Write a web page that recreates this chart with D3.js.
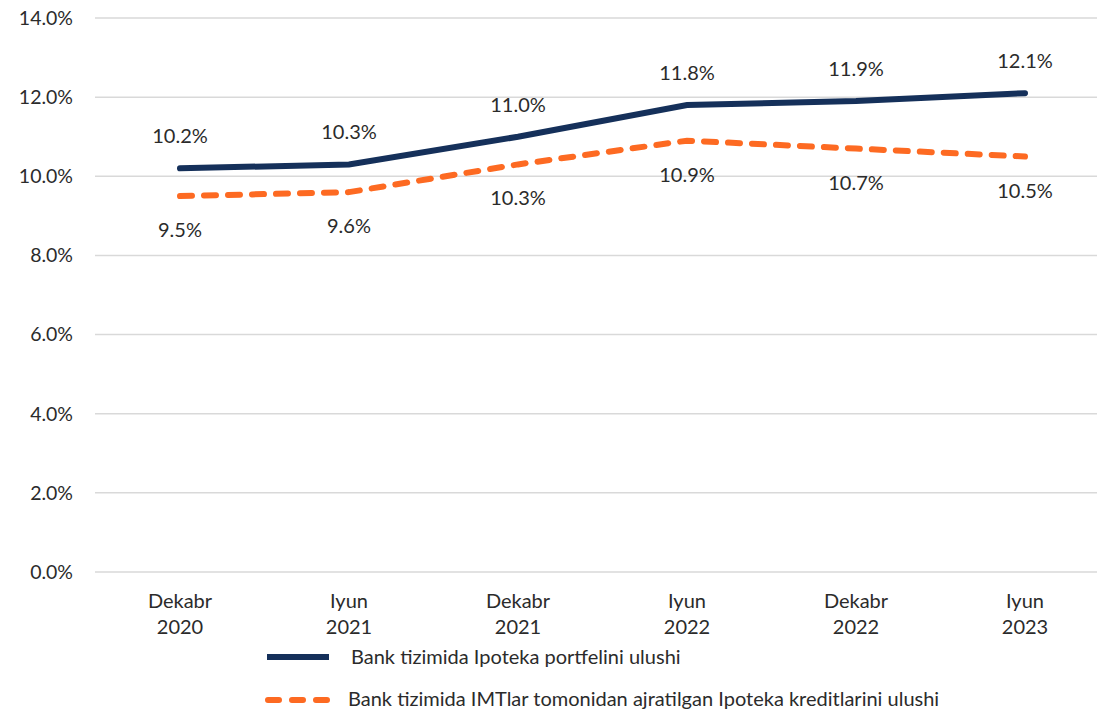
<!DOCTYPE html>
<html>
<head>
<meta charset="utf-8">
<script src="https://cdn.jsdelivr.net/npm/d3@7"></script>
<style>
  body { margin: 0; background: #fff; }
  text { font-family: Lato, "Open Sans", sans-serif; fill: #2b2b2b; }
</style>
</head>
<body>
<script>
// Data
var periods = [["Dekabr", "2020"], ["Iyun", "2021"], ["Dekabr", "2021"],
               ["Iyun", "2022"], ["Dekabr", "2022"], ["Iyun", "2023"]];
var portfolioShare = [10.2, 10.3, 11.0, 11.8, 11.9, 12.1];
var imtShare = [9.5, 9.6, 10.3, 10.9, 10.7, 10.5];
var yTicks = [0, 2, 4, 6, 8, 10, 12, 14];
var seriesNames = ["Bank tizimida Ipoteka portfelini ulushi",
                   "Bank tizimida IMTlar tomonidan ajratilgan Ipoteka kreditlarini ulushi"];

var width = 1097, height = 715;
var navy = "#15305a", orange = "#fd6a22";

var svg = d3.select("body").append("svg")
    .attr("width", width)
    .attr("height", height);

var xScale = d3.scalePoint()
    .domain(d3.range(periods.length))
    .range([180, 1025]);
var yScale = d3.scaleLinear()
    .domain([0, 14])
    .range([572, 18]);

// Gridlines + y labels
var grid = svg.append("g");
grid.selectAll("line").data(yTicks).enter().append("line")
    .attr("x1", 95).attr("x2", 1097)
    .attr("y1", function(d) { return yScale(d); })
    .attr("y2", function(d) { return yScale(d); })
    .attr("stroke", "#d9d9d9")
    .attr("stroke-width", 1.5);
grid.selectAll("text").data(yTicks).enter().append("text")
    .attr("x", 73)
    .attr("y", function(d) { return yScale(d); })
    .attr("dy", "0.35em")
    .attr("text-anchor", "end")
    .style("font-size", "19.5px")
    .text(function(d) { return d.toFixed(1) + "%"; });

// X labels (two lines)
var xl = svg.append("g").selectAll("text").data(periods).enter().append("text")
    .attr("text-anchor", "middle")
    .style("font-size", "20px")
    .attr("transform", function(d, i) { return "translate(" + xScale(i) + ",0)"; });
xl.append("tspan").attr("x", 0).attr("y", 608).text(function(d) { return d[0]; });
xl.append("tspan").attr("x", 0).attr("y", 634).text(function(d) { return d[1]; });

var line = d3.line()
    .x(function(d, i) { return xScale(i); })
    .y(function(d) { return yScale(d); });

svg.append("path").datum(imtShare)
    .attr("d", line)
    .attr("fill", "none")
    .attr("stroke", orange)
    .attr("stroke-width", 6)
    .attr("stroke-linecap", "round")
    .attr("stroke-dasharray", "12,12");

svg.append("path").datum(portfolioShare)
    .attr("d", line)
    .attr("fill", "none")
    .attr("stroke", navy)
    .attr("stroke-width", 6)
    .attr("stroke-linecap", "round");

// Data labels
svg.append("g").selectAll("text").data(portfolioShare).enter().append("text")
    .attr("x", function(d, i) { return xScale(i); })
    .attr("y", function(d) { return yScale(d) - 32; })
    .attr("dy", "0.35em")
    .attr("text-anchor", "middle")
    .style("font-size", "20px")
    .text(function(d) { return d.toFixed(1) + "%"; });
svg.append("g").selectAll("text").data(imtShare).enter().append("text")
    .attr("x", function(d, i) { return xScale(i); })
    .attr("y", function(d) { return yScale(d) + 34; })
    .attr("dy", "0.35em")
    .attr("text-anchor", "middle")
    .style("font-size", "20px")
    .text(function(d) { return d.toFixed(1) + "%"; });

// Legend
var legend = svg.append("g");
legend.append("line")
    .attr("x1", 267).attr("x2", 329).attr("y1", 657).attr("y2", 657)
    .attr("stroke", navy).attr("stroke-width", 6);
legend.append("line")
    .attr("x1", 268).attr("x2", 329).attr("y1", 700).attr("y2", 700)
    .attr("stroke", orange).attr("stroke-width", 6)
    .attr("stroke-linecap", "round")
    .attr("stroke-dasharray", "11,13");
legend.selectAll("text").data(seriesNames).enter().append("text")
    .attr("x", function(d, i) { return i === 0 ? 351 : 348; })
    .attr("y", function(d, i) { return i === 0 ? 662 : 704; })
    .attr("dy", "0.1em")
    .style("font-size", "20px")
    .text(function(d) { return d; });
</script>
</body>
</html>
